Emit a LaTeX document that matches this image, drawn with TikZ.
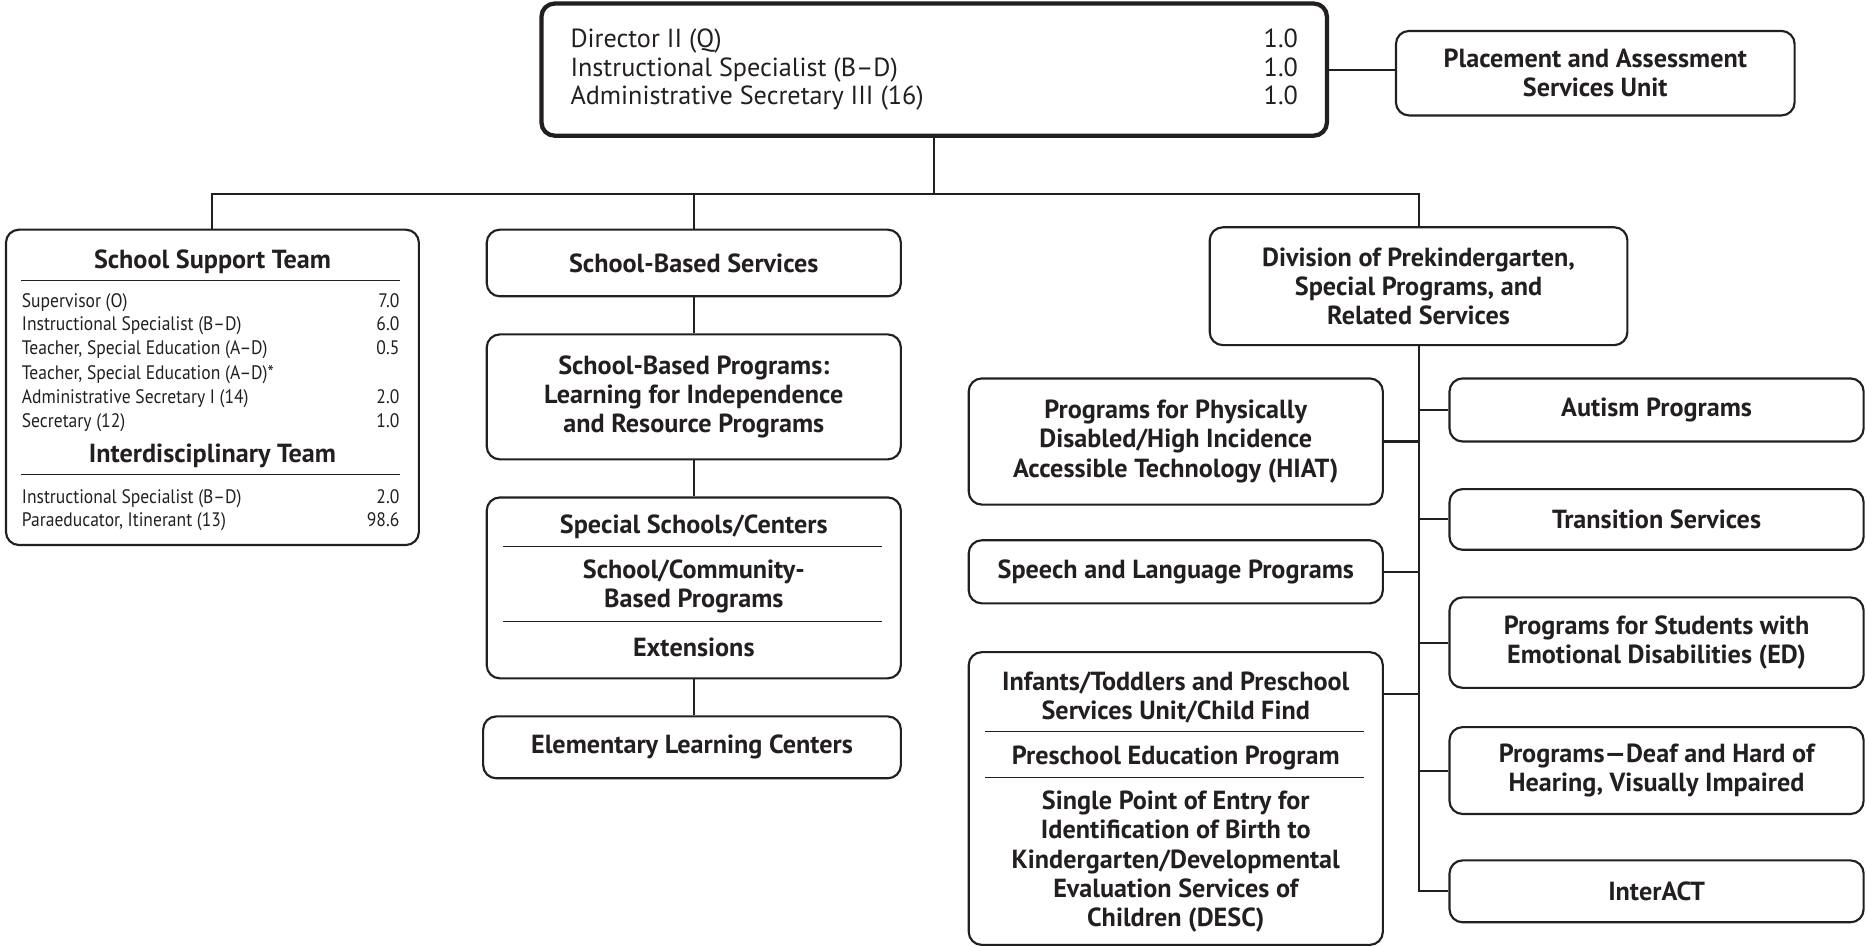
\documentclass[tikz,border=0pt]{standalone}
\usepackage{fontspec}
\setmainfont{PT Sans}
\newfontfamily\narrow{PT Sans}[FakeStretch=0.9]
\usepackage{tikz}
\usetikzlibrary{calc}
\definecolor{ink}{HTML}{231F20}
\tikzset{
  box/.style={draw=ink, line width=0.9pt, rounded corners=5.5pt, minimum width=174pt, inner sep=0pt},
  head/.style={box, line width=1.8pt},
  lab/.style={text=ink, font=\fontsize{11}{12.25}\selectfont\bfseries, align=center, inner sep=0pt},
  txt/.style={text=ink, font=\fontsize{11}{12}\selectfont, inner sep=0pt},
  row/.style={text=ink, font=\narrow\fontsize{8.2}{10}\selectfont, inner sep=0pt},
  link/.style={draw=ink, line width=0.85pt},
  rule/.style={draw=ink, line width=0.5pt},
}

\begin{document}
\begin{tikzpicture}[x=0.5pt,y=-0.5pt]
  \useasboundingbox (0,0) rectangle (1568,796);

  % office of the director
  \node[head,minimum width=330pt,minimum height=55.5pt] (top) at (785,58.5) {};
  \node[txt,anchor=mid west] (d1) at (479,35) {Director II (Q)};
  \node[txt,anchor=mid west] (d2) at (479,59) {Instructional Specialist (B–D)};
  \node[txt,anchor=mid west] (d3) at (479,83) {Administrative Secretary III (16)};
  \node[txt,anchor=mid east] (f1) at (1091,35) {1.0};
  \node[txt,anchor=mid east] (f2) at (1091,59) {1.0};
  \node[txt,anchor=mid east] (f3) at (1091,83) {1.0};

  \node[box,minimum width=167.5pt,minimum height=35.5pt,lab] (place) at (1340.5,61.5)
    {Placement and Assessment\\Services Unit};

  % school support team
  \node[box,minimum width=173.5pt,minimum height=132.5pt] (sst) at (178.5,325.5) {};
  \node[lab] (sstt) at (178.5,220) {School Support Team};
  \draw[rule] (18,236) -- (336,236);
  \foreach \t/\n/\y [count=\i] in {Supervisor (O)/7.0/253,
      Instructional Specialist (B–D)/6.0/273,
      {Teacher, Special Education (A–D)}/0.5/293,
      {Teacher, Special Education (A–D)*}//314,
      Administrative Secretary I (14)/2.0/334,
      Secretary (12)/1.0/354,
      Instructional Specialist (B–D)/2.0/418,
      {Paraeducator, Itinerant (13)}/98.6/437}{
    \node[row,anchor=mid west] (r\i) at (18,\y) {\t};
    \node[row,anchor=mid east] (n\i) at (336,\y) {\n};
  }
  \node[lab] (idt) at (178.5,383) {Interdisciplinary Team};
  \draw[rule] (18,399) -- (336,399);

  % school-based column
  \node[box,minimum height=28pt,lab] (sbs) at (583,221) {School-Based Services};
  \node[box,minimum height=52.5pt,lab] (sbp) at (583,333.5)
    {School-Based Programs:\\Learning for Independence\\and Resource Programs};
  \node[box,minimum height=76pt] (ssc) at (583,494) {};
  \node[lab] (ssc1) at (583,443) {Special Schools/Centers};
  \draw[rule] (423,459) -- (741,459);
  \node[lab] (ssc2) at (583,492.5) {School/Community-\\Based Programs};
  \draw[rule] (423,522) -- (741,522);
  \node[lab] (ssc3) at (583,544) {Extensions};
  \node[box,minimum width=175.5pt,minimum height=26pt,lab] (elc) at (581.5,628)
    {Elementary Learning Centers};

  % division
  \node[box,minimum width=175.5pt,minimum height=49.5pt,lab] (div) at (1192,240.5)
    {Division of Prekindergarten,\\Special Programs, and\\Related Services};

  \node[box,minimum height=53pt,lab] (phys) at (988,371)
    {Programs for Physically\\Disabled/High Incidence\\Accessible Technology (HIAT)};
  \node[box,minimum height=26.5pt,lab] (speech) at (988,480.5) {Speech and Language Programs};
  \node[box,minimum height=123pt] (inf) at (988,671) {};
  \node[lab] (inf1) at (988,586) {Infants/Toddlers and Preschool\\Services Unit/Child Find};
  \draw[rule] (828,615) -- (1146,615);
  \node[lab] (inf2) at (988,637) {Preschool Education Program};
  \draw[rule] (828,653) -- (1146,653);
  \node[lab] (inf3) at (988,724) {Single Point of Entry for\\Identification of Birth to\\Kindergarten/Developmental\\Evaluation Services of\\Children (DESC)};

  \node[box,minimum height=26.5pt,lab] (aut) at (1392,344.5) {Autism Programs};
  \node[box,minimum height=25.5pt,lab] (trans) at (1392,436.5) {Transition Services};
  \node[box,minimum height=38pt,lab] (ed) at (1392,540)
    {Programs for Students with\\Emotional Disabilities (ED)};
  \node[box,minimum height=36.5pt,lab] (deaf) at (1392,647.5)
    {Programs—Deaf and Hard of\\Hearing, Visually Impaired};
  \node[box,minimum height=26pt,lab] (inter) at (1392,749) {InterACT};

  % connectors
  \coordinate (bus) at (785,163);
  \draw[link] (top.south) -- (bus);
  \draw[link] (top.east) -- (top.east -| place.west);
  \draw[link] (sst.north) |- (bus) -| (div.north);
  \draw[link] (sbs.north) -- (sbs.north |- bus);
  \draw[link] (sbs.south) -- (sbp.north);
  \draw[link] (sbp.south) -- (ssc.north);
  \draw[link] (ssc.south) -- (ssc.south |- elc.north);

  \coordinate (spine) at (inter.west -| div.south);
  \draw[link] (div.south) -- (spine) -- (inter.west);
  \draw[link] (phys.east) -- (phys.east -| spine);
  \draw[link] (speech.east) -- (speech.east -| spine);
  \draw[link] ([yshift=-18pt]inf.north east) coordinate (infc) -- (infc -| spine);
  \draw[link] (aut.west) -- (aut.west -| spine);
  \draw[link] (trans.west) -- (trans.west -| spine);
  \draw[link] (ed.west) -- (ed.west -| spine);
  \draw[link] (deaf.west) -- (deaf.west -| spine);
\end{tikzpicture}
\end{document}
